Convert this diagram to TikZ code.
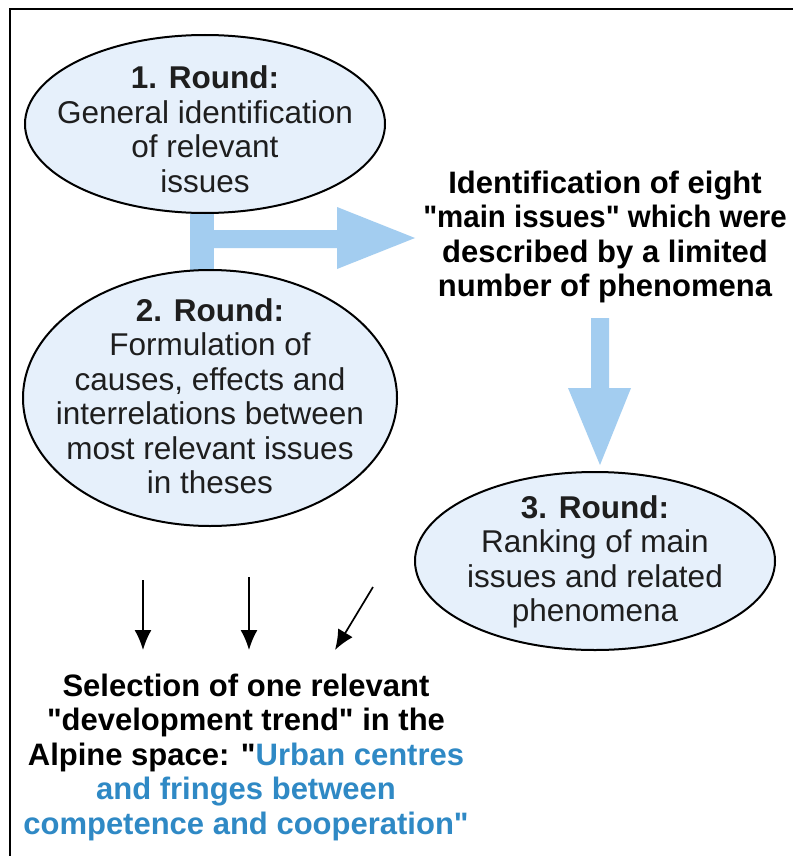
\documentclass[tikz,border=0pt]{standalone}
\usepackage{fontspec}
\usepackage{graphicx}
\setmainfont{Liberation Sans}[Ligatures=TeXOff]
\usetikzlibrary{shapes.geometric,arrows.meta}
\definecolor{efill}{HTML}{E6F0FB}
\definecolor{barblue}{HTML}{A3CDF0}
\definecolor{tblue}{HTML}{2F89C5}
\definecolor{tgray}{HTML}{1E1E1E}
\tikzset{
  roundell/.style={ellipse, draw=black, line width=2pt, fill=efill, inner sep=0pt},
  elltext/.style={align=center, text=tgray, inner sep=0pt, font=\fontsize{31.5}{34.5}\selectfont},
  boldtext/.style={align=center, font=\fontsize{31}{34.5}\selectfont\bfseries, text=black, inner sep=0pt},
  fatarrow/.style={fill=barblue, draw=none},
  thinarrow/.style={draw=black, line width=1.7pt, -{Latex[length=20pt,width=17pt]}}
}
\begin{document}
\begin{tikzpicture}[x=1pt,y=-1pt]
\useasboundingbox (0,0) rectangle (793,856);
\fill[white] (0,0) rectangle (793,856);
% frame
\draw[line width=2.8pt] (10,856) -- (10,9) -- (793,9);

% fat blue arrows (behind the ellipses)
\fill[fatarrow] (190,200) rectangle (214,285);
\fill[fatarrow] (214,230) -- (337,230) -- (337,207) -- (415,238) -- (337,269) -- (337,248) -- (214,248) -- cycle;
\fill[fatarrow] (591,318) -- (609,318) -- (609,388) -- (631,388) -- (600,465) -- (568,388) -- (591,388) -- cycle;

% ellipses
\node[roundell, minimum width=360pt, minimum height=178pt] (r1) at (205,124) {};
\node[elltext] (r1t) at (205,129)
  {\textbf{1. Round:}\\General identification\\of relevant\\issues};
\node[roundell, minimum width=374pt, minimum height=256pt] (r2) at (210,398) {};
\node[elltext] (r2t) at (210,396)
  {\textbf{2. Round:}\\Formulation of\\causes, effects and\\interrelations between\\most relevant issues\\in theses};
\node[roundell, minimum width=360pt, minimum height=178pt] (r3) at (595,561) {};
\node[elltext] (r3t) at (595,562)
  {\textbf{3. Round:}\\Ranking of main\\issues and related\\phenomena};

% text blocks
\node[boldtext] (main) at (605,237)
  {Identification of eight\\\scalebox{0.95}[1]{"main issues" which were}\\described by a limited\\number of phenomena};
\node[boldtext] (sel) at (246,757)
  {Selection of one relevant\\"development trend" in the\\Alpine space: "\textcolor{tblue}{Urban centres}\\\textcolor{tblue}{and fringes between}\\\textcolor{tblue}{competence and cooperation"}};

% thin arrows
\coordinate (s1) at (143,580);
\coordinate (e1) at (143,650);
\coordinate (s2) at (249,577);
\coordinate (e2) at (249,650);
\coordinate (s3) at (373,587);
\coordinate (e3) at (335,650);
\draw[thinarrow] (s1) -- (e1);
\draw[thinarrow] (s2) -- (e2);
\draw[thinarrow] (s3) -- (e3);
\end{tikzpicture}
\end{document}
